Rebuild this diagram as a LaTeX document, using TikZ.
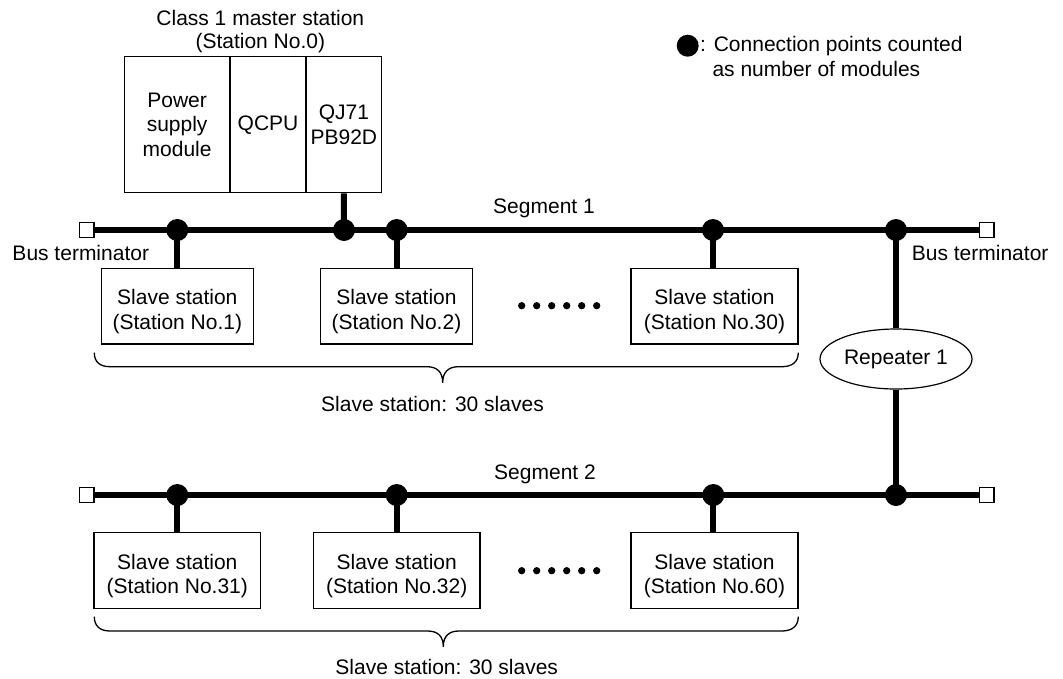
\documentclass[tikz,border=0pt]{standalone}
\usepackage{fontspec}
\setmainfont{Liberation Sans}
\usetikzlibrary{shapes.geometric}
\begin{document}
\begin{tikzpicture}[x=1pt,y=-1pt,
  every node/.style={font=\fontsize{21}{24.3}\selectfont},
  box/.style={draw, line width=1.2pt, inner sep=0pt, align=center},
  slavebox/.style={box, minimum height=75.7pt},
  bus/.style={line width=6.5pt},
  drop/.style={line width=6pt},
  conn/.style={circle, fill=black, inner sep=0pt, minimum size=22pt},
  term/.style={draw, fill=white, line width=1.2pt, inner sep=0pt, minimum size=14.5pt},
  smalldot/.style={circle, fill=black, inner sep=0pt, minimum size=7.3pt},
  brace/.style={line width=1.3pt},
  lbl/.style={anchor=base, inner sep=0pt},
]
\useasboundingbox (0,0) rectangle (1063,678);

% master station
\node[lbl] (title1) at (260.3,25.7) {Class 1 master station};
\node[lbl] (title2) at (260.3,48.5) {(Station No.0)};
\node[box, minimum width=105.7pt, minimum height=136pt] (psu) at (177.15,124.7) {Power\\supply\\module};
\node[box, minimum width=76pt, minimum height=136pt] (cpu) at (268,124.7) {QCPU};
\node[box, minimum width=75.7pt, minimum height=136pt] (qj) at (343.85,124.7) {QJ71\\PB92D};

% legend
\node[conn] (legdot) at (687.7,45.7) {};
\node[lbl, anchor=base west] (leg1) at (700,51.7) {: Connection points counted};
\node[lbl, anchor=base west] (leg2) at (712.3,76.7) {as number of modules};

% terminators
\node[term] (t1l) at (86.7,230) {};
\node[term] (t1r) at (986.7,230) {};
\node[term] (t2l) at (86.7,495) {};
\node[term] (t2r) at (986.7,495) {};
\node[lbl, anchor=base west] (btl) at (12.3,260) {Bus terminator};
\node[lbl, anchor=base west] (btr) at (911.7,260) {Bus terminator};

% segment labels
\node[lbl] (seg1) at (544,213.3) {Segment 1};
\node[lbl] (seg2) at (545,479) {Segment 2};

% connection points
\node[conn] (c1a) at (177.3,230) {};
\node[conn] (cM)  at (344,230) {};
\node[conn] (c1b) at (396.7,230) {};
\node[conn] (c1c) at (713,230) {};
\node[conn] (c1r) at (896,230) {};
\node[conn] (c2a) at (177.3,495) {};
\node[conn] (c2b) at (396.7,495) {};
\node[conn] (c2c) at (713.3,495) {};
\node[conn] (c2r) at (896,495) {};

% slave stations
\node[slavebox, minimum width=152pt] (s1) at (177.3,306.2) {\rule{0pt}{26pt}Slave station\\(Station No.1)};
\node[slavebox, minimum width=151.7pt] (s2) at (396.5,306.2) {\rule{0pt}{26pt}Slave station\\(Station No.2)};
\node[slavebox, minimum width=167pt] (s30) at (714.5,306.2) {\rule{0pt}{26pt}Slave station\\(Station No.30)};
\node[slavebox, minimum width=166.7pt] (s31) at (177.3,570.7) {\rule{0pt}{26pt}Slave station\\(Station No.31)};
\node[slavebox, minimum width=166.7pt] (s32) at (396.7,570.7) {\rule{0pt}{26pt}Slave station\\(Station No.32)};
\node[slavebox, minimum width=167pt] (s60) at (714.5,570.7) {\rule{0pt}{26pt}Slave station\\(Station No.60)};

% repeater
\node[draw, ellipse, line width=1.2pt, inner sep=0pt, minimum width=152pt, minimum height=60pt] (rep) at (896,359) {Repeater 1};

% ellipsis dots
\foreach \i in {0,...,5} {
  \node[smalldot] (da\i) at (521.7+15*\i,305.7) {};
  \node[smalldot] (db\i) at (521.7+15*\i,570.7) {};
}

% buses
\draw[bus] (t1l.east) -- (t1r.west);
\draw[bus] (t2l.east) -- (t2r.west);

% drops
\draw[drop] (qj.south) -- (cM.center);
\draw[drop] (c1a.center) -- (c1a.center |- s1.north);
\draw[drop] (c1b.center) -- (c1b.center |- s2.north);
\draw[drop] (c1c.center) -- (c1c.center |- s30.north);
\draw[drop] (c2a.center) -- (c2a.center |- s31.north);
\draw[drop] (c2b.center) -- (c2b.center |- s32.north);
\draw[drop] (c2c.center) -- (c2c.center |- s60.north);
\draw[drop] (c1r.center) -- (rep.north);
\draw[drop] (rep.south) -- (c2r.center);

% braces
\draw[brace] (94.3,352.7) .. controls (94.3,362) and (100,366.7) .. (110,366.7)
  -- (427,366.7) .. controls (437,366.7) and (442.7,372) .. (442.7,382.7)
  .. controls (442.7,372) and (448.5,366.7) .. (458.5,366.7)
  -- (782,366.7) .. controls (792,366.7) and (798.3,362) .. (798.3,352.7);
\draw[brace] (94.3,616.7) .. controls (94.3,626) and (100,631) .. (110,631)
  -- (427.5,631) .. controls (437.5,631) and (443.3,636) .. (443.3,646.7)
  .. controls (443.3,636) and (449,631) .. (459,631)
  -- (782,631) .. controls (792,631) and (798.3,626) .. (798.3,616.7);

\node[lbl] (sum1) at (432.5,411.5) {Slave station: 30 slaves};
\node[lbl] (sum2) at (446.7,674) {Slave station: 30 slaves};
\end{tikzpicture}
\end{document}
